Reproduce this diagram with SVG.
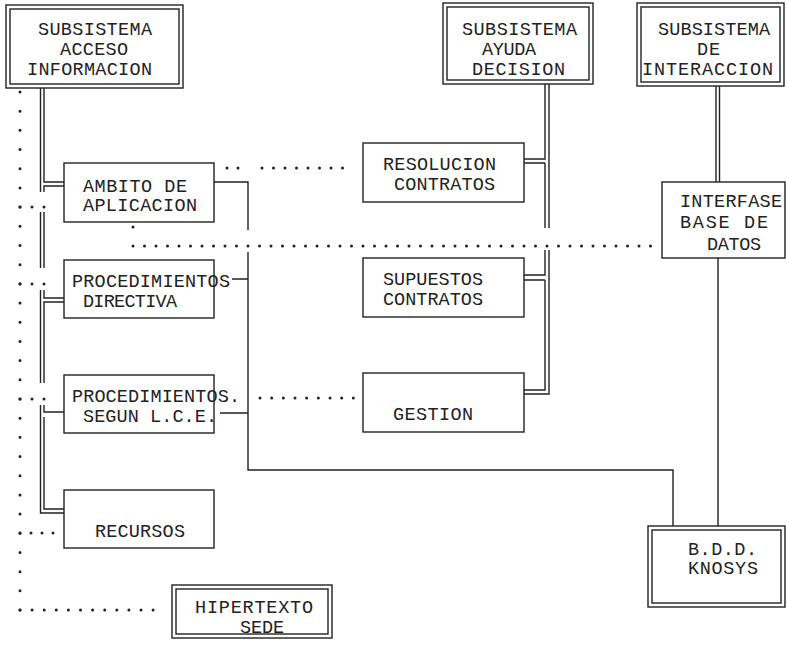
<svg xmlns="http://www.w3.org/2000/svg" width="787" height="649" viewBox="0 0 787 649">
<style>
  .bx { fill: none; stroke: #222; stroke-width: 1.4; }
  .ln { fill: none; stroke: #222; stroke-width: 1.4; }
  .dt { fill: none; stroke: #222; stroke-width: 3; stroke-linecap: round; }
  .dot { fill: #222; }
  text { font-family: "Liberation Mono", "DejaVu Sans Mono", monospace; font-size: 18.5px; fill: #222; }
</style>
<rect width="787" height="649" fill="#ffffff"/>
<g id="connectors">
  <!-- left trunk (double) -->
  <path class="ln" d="M40.5 88 V192 M44 88 V182 H64 M44 192 V186 H64"/>
  <path class="ln" d="M40.5 212 V268 M44 212 V268"/>
  <path class="ln" d="M40.5 290 V383 M44 290 V298 H64 M44 383 V302 H64"/>
  <path class="ln" d="M40.5 405 V513 H64 M44 405 V412 H64 M44 417 V509 H64"/>
  <!-- middle trunk (double) -->
  <path class="ln" d="M549 84 V228 M545 84 V159 H524 M545 163 H524 M545 163 V228"/>
  <path class="ln" d="M549 250 V394 H524 M545 250 V275 H524 M545 280 H524 M545 280 V390 H524"/>
  <!-- right trunk -->
  <path class="ln" d="M716 86 V182 M719.5 86 V182"/>
  <path class="ln" d="M718 258 V526"/>
  <!-- connector from AMBITO to B.D.D. -->
  <path class="ln" d="M214 182 H248 V230"/>
  <path class="ln" d="M248 252 V470 H673 V526"/>
  <path class="ln" d="M232 279 H248 M220 413 H248"/>
  <!-- dotted lines -->
  <path class="dt" stroke-dasharray="0 19.185" d="M20 92 V610"/>
  <path class="dt" stroke-dasharray="0 12" d="M20 207 H56 M20 284 H56 M20 399 H56"/>
  <path class="dt" stroke-dasharray="0 11" d="M20 533 H64"/>
  <path class="dt" stroke-dasharray="0 12.1" d="M20 610 H165"/>
  <circle class="dot" cx="227" cy="168" r="1.5"/>
  <circle class="dot" cx="238" cy="168" r="1.5"/>
  <path class="dt" stroke-dasharray="0 11.5" d="M262 168 H354"/>
  <path class="dt" stroke-dasharray="0 11.67" d="M260 398 H365"/>
  <circle class="dot" cx="133" cy="227" r="1.5"/>
  <path class="dt" stroke-dasharray="0 11.5" d="M133 246 H662"/>
</g>
<g id="subsistema-acceso">
  <rect class="bx" x="6" y="5" width="177" height="83"/>
  <rect class="bx" x="10" y="9" width="169" height="75"/>
  <text x="38" y="35" textLength="114" lengthAdjust="spacing">SUBSISTEMA</text>
  <text x="60" y="55" textLength="68" lengthAdjust="spacing">ACCESO</text>
  <text x="27" y="75" textLength="125" lengthAdjust="spacing">INFORMACION</text>
</g>
<g id="subsistema-ayuda">
  <rect class="bx" x="443" y="3" width="150" height="81"/>
  <rect class="bx" x="447" y="7" width="142" height="73"/>
  <text x="462" y="35" textLength="115" lengthAdjust="spacing">SUBSISTEMA</text>
  <text x="482" y="55" textLength="54" lengthAdjust="spacing">AYUDA</text>
  <text x="472" y="75" textLength="93" lengthAdjust="spacing">DECISION</text>
</g>
<g id="subsistema-interaccion">
  <rect class="bx" x="637" y="3" width="147" height="83"/>
  <rect class="bx" x="641" y="7" width="139" height="75"/>
  <text x="658" y="35" textLength="112" lengthAdjust="spacing">SUBSISTEMA</text>
  <text x="697" y="55" textLength="23" lengthAdjust="spacing">DE</text>
  <text x="642" y="75" textLength="131" lengthAdjust="spacing">INTERACCION</text>
</g>
<g id="ambito">
  <rect class="bx" x="64" y="163" width="150" height="59"/>
  <text x="83" y="192" textLength="104" lengthAdjust="spacing">AMBITO DE</text>
  <text x="83" y="211" textLength="114" lengthAdjust="spacing">APLICACION</text>
</g>
<g id="proc-directiva">
  <rect class="bx" x="64" y="260" width="150" height="58"/>
  <text x="72" y="287" textLength="158" lengthAdjust="spacing">PROCEDIMIENTOS</text>
  <text x="83" y="307" textLength="94" lengthAdjust="spacing">DIRECTIVA</text>
</g>
<g id="proc-lce">
  <rect class="bx" x="64" y="375" width="150" height="58"/>
  <text x="72" y="402" textLength="168" lengthAdjust="spacing">PROCEDIMIENTOS.</text>
  <text x="83" y="422" textLength="134" lengthAdjust="spacing">SEGUN L.C.E.</text>
</g>
<g id="recursos">
  <rect class="bx" x="64" y="490" width="150" height="58"/>
  <text x="95" y="537" textLength="90" lengthAdjust="spacing">RECURSOS</text>
</g>
<g id="resolucion">
  <rect class="bx" x="363" y="143" width="161" height="59"/>
  <text x="383" y="170" textLength="113" lengthAdjust="spacing">RESOLUCION</text>
  <text x="394" y="190" textLength="101" lengthAdjust="spacing">CONTRATOS</text>
</g>
<g id="supuestos">
  <rect class="bx" x="363" y="258" width="161" height="59"/>
  <text x="383" y="285" textLength="100" lengthAdjust="spacing">SUPUESTOS</text>
  <text x="383" y="305" textLength="100" lengthAdjust="spacing">CONTRATOS</text>
</g>
<g id="gestion">
  <rect class="bx" x="363" y="373" width="161" height="59"/>
  <text x="393" y="420" textLength="80" lengthAdjust="spacing">GESTION</text>
</g>
<g id="interfase">
  <rect class="bx" x="662" y="182" width="123" height="76"/>
  <text x="680" y="207" textLength="102" lengthAdjust="spacing">INTERFASE</text>
  <text x="680" y="228" textLength="88" lengthAdjust="spacing">BASE DE</text>
  <text x="707" y="250" textLength="54" lengthAdjust="spacing">DATOS</text>
</g>
<g id="bdd-knosys">
  <rect class="bx" x="648" y="526" width="137" height="81"/>
  <rect class="bx" x="652" y="530" width="129" height="73"/>
  <text x="688" y="555" textLength="69" lengthAdjust="spacing">B.D.D.</text>
  <text x="688" y="574" textLength="70" lengthAdjust="spacing">KNOSYS</text>
</g>
<g id="hipertexto">
  <rect class="bx" x="172" y="585" width="160" height="53"/>
  <rect class="bx" x="176" y="589" width="152" height="45"/>
  <text x="195" y="613" textLength="118" lengthAdjust="spacing">HIPERTEXTO</text>
  <text x="240" y="633" textLength="44" lengthAdjust="spacing">SEDE</text>
</g>
</svg>
